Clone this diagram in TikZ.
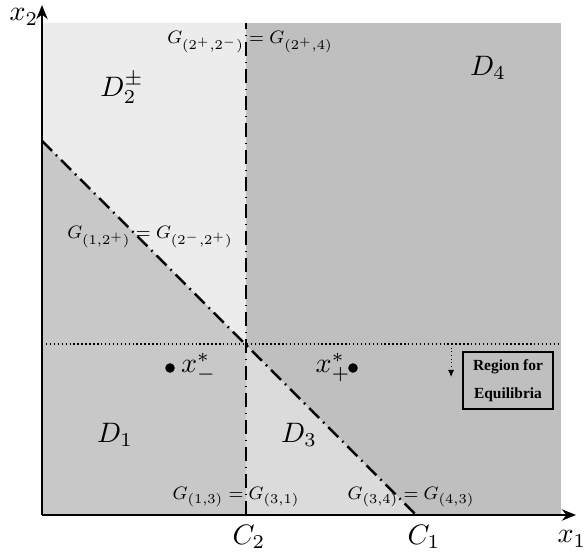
\documentclass[tikz,border=0pt]{standalone}
\usepackage{amsmath}
\usepackage{amssymb}
\usepackage{fontspec}
\newfontfamily\boxfont{Liberation Serif}
\usetikzlibrary{calc,arrows.meta,positioning}

\tikzset{
  boundary/.style={line width=0.9pt, dash pattern=on 5pt off 2pt on 0.6pt off 2pt},
  glabel/.style={font=\footnotesize, inner sep=1pt, scale=0.64, transform shape},
  eqpoint/.style={circle, fill, inner sep=0pt, minimum size=3.4pt},
}

\begin{document}
\begin{tikzpicture}[scale=1.25]
\useasboundingbox (-0.42,-0.37) rectangle (5.42,5.15);
\coordinate (O) at (0,0);
\coordinate (C2) at (2.04,0);
\coordinate (C1) at (3.74,0);
\coordinate (T2) at (2.04,4.92);
\coordinate (Y1) at (0,3.74);
\coordinate (M) at (2.04,1.70);
% regions
\fill[gray!50] (O) rectangle (5.19,4.92);
\fill[gray!15] (Y1) -- (0,4.92) -- (T2) -- (M) -- cycle;
\fill[gray!43] (O) -- (C2) -- (M) -- (Y1) -- cycle;
\fill[gray!28] (C2) -- (C1) -- (M) -- cycle;
% boundaries
\draw[boundary] (C2) -- (T2);
\draw[boundary] (Y1) -- (C1);
\coordinate (Eleft) at (0,1.71);
\coordinate (Eright) at (5.19,1.71);
\draw[line width=0.5pt, dash pattern=on 0.5pt off 0.9pt] (Eleft) -- (Eright);
% axes
\draw[line width=0.8pt, -{Stealth[length=5pt,width=4pt]}] (O) -- (5.34,0);
\draw[line width=0.8pt, -{Stealth[length=5pt,width=4pt]}] (O) -- (0,5.10);
\node (x1) at (5.30,-0.24) {$x_1$};
\node (x2) at (-0.18,4.98) {$x_2$};
\node (c2) at (2.07,-0.22) {$C_2$};
\node (c1) at (3.82,-0.22) {$C_1$};
% region names
\node (d2) at (0.80,4.27) {$D_2^{\pm}$};
\node (d4) at (4.46,4.47) {$D_4$};
\node (d1) at (0.73,0.80) {$D_1$};
\node (d3) at (2.57,0.80) {$D_3$};
% equilibria
\node[eqpoint] (xm) at (1.28,1.47) {};
\node[right=-1.5pt of xm] (xmlab) {$x_-^*$};
\node[eqpoint] (xp) at (3.11,1.47) {};
\node[left=-4.5pt of xp] (xplab) {$x_+^*$};
% boundary labels
\node[glabel] (g22) at (2.08,4.73) {$G_{(2^+,2^-)} = G_{(2^+,4)}$};
\node[glabel] (g12) at (1.08,2.78) {$G_{(1,2^+)} = G_{(2^-,2^+)}$};
\node[glabel] (g13) at (1.94,0.18) {$G_{(1,3)} = G_{(3,1)}$};
\node[glabel] (g34) at (3.69,0.18) {$G_{(3,4)} = G_{(4,3)}$};
% region for equilibria
\coordinate (Atop) at (4.09,1.71);
\coordinate (Abot) at (4.09,1.38);
\draw[line width=0.3pt, densely dotted, -{Latex[length=2.5pt,width=2.2pt]}] (Atop) -- (Abot);
\node[draw, line width=0.5pt, align=center, inner xsep=3.6pt, inner ysep=2.6pt,
  font=\boxfont\bfseries\fontsize{5.5}{10}\selectfont] (region) at (4.66,1.345) {Region for\\Equilibria};
\end{tikzpicture}
\end{document}
